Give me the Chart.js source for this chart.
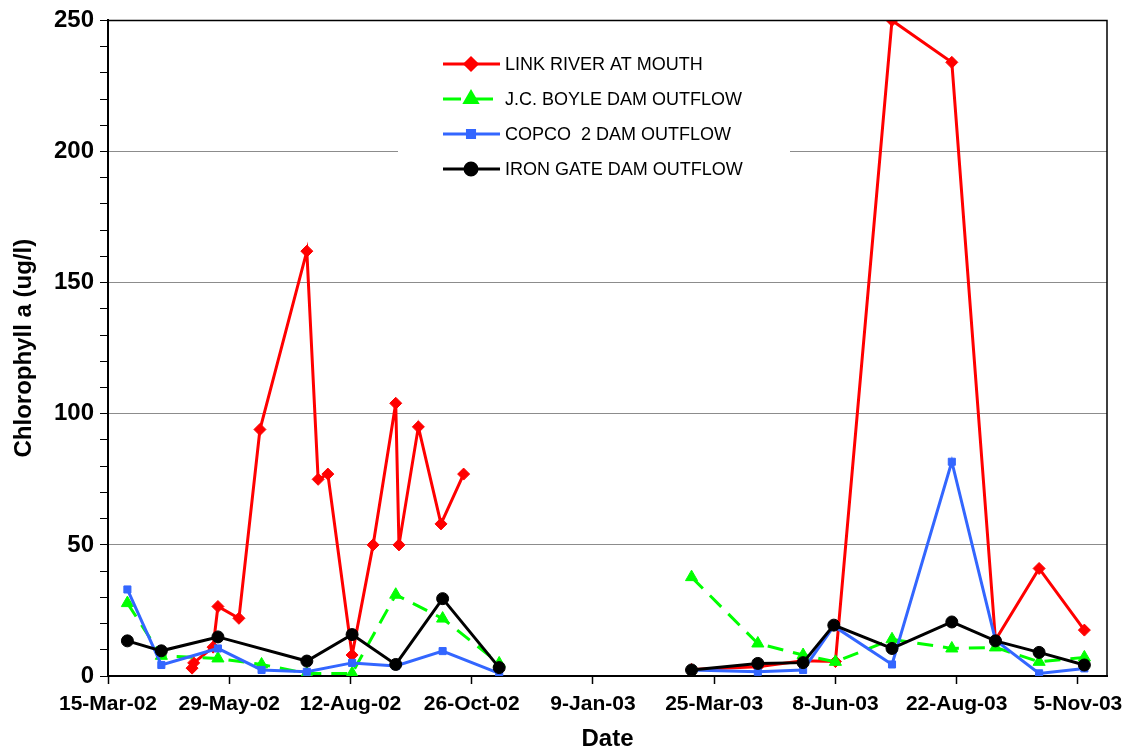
<!DOCTYPE html>
<html>
<head>
<meta charset="utf-8">
<script src="https://cdn.jsdelivr.net/npm/chart.js@4.4.0/dist/chart.umd.min.js"></script>
<style>
  html, body { margin: 0; padding: 0; background: #fff; }
  #wrap { width: 1123px; height: 756px; }
</style>
</head>
<body>
<div id="wrap"><canvas id="chlChart" width="1123" height="756"></canvas></div>
<script>
// x axis runs in days counted from the first tick date
const startDate = '2002-03-15';
const tickLabels = ['15-Mar-02', '29-May-02', '12-Aug-02', '26-Oct-02', '9-Jan-03',
                    '25-Mar-03', '8-Jun-03', '22-Aug-03', '5-Nov-03'];

const linkDates = ['2002-05-06', '2002-05-07', '2002-05-19', '2002-05-22', '2002-06-04', '2002-06-17',
                   '2002-07-16', '2002-07-23', '2002-07-29', '2002-08-13', '2002-08-26', '2002-09-09',
                   '2002-09-11', '2002-09-23', '2002-10-07', '2002-10-21',
                   '2003-03-11', '2003-04-21', '2003-05-19', '2003-06-08', '2003-07-13', '2003-08-19',
                   '2003-09-15', '2003-10-12', '2003-11-09'];
const linkVals = [3, 5, 11, 26.5, 22, 94, 162, 75, 77, 8, 50, 104, 50, 95, 58, 77,
                  2.5, 3.5, 5.8, 5.5, 250, 234, 13.7, 41, 17.5];

const boyleDates = ['2002-03-27', '2002-04-17', '2002-05-22', '2002-06-18', '2002-07-16', '2002-08-13',
                    '2002-09-09', '2002-10-08', '2002-11-12',
                    '2003-03-11', '2003-04-21', '2003-05-19', '2003-06-08', '2003-07-13', '2003-08-19',
                    '2003-09-15', '2003-10-12', '2003-11-09'];
const boyleVals = [27.8, 7.7, 6.7, 4.4, 1, 1, 31, 21.9, 4.8,
                   37.7, 12.4, 8, 5.4, 14, 10.5, 10.9, 5.4, 7.1];

const copcoDates = ['2002-03-27', '2002-04-17', '2002-05-22', '2002-06-18', '2002-07-16', '2002-08-13',
                    '2002-09-09', '2002-10-08', '2002-11-12',
                    '2003-03-11', '2003-04-21', '2003-05-19', '2003-06-07', '2003-07-13', '2003-08-19',
                    '2003-09-15', '2003-10-12', '2003-11-09'];
const copcoVals = [33, 4.2, 10.5, 2.3, 1.6, 5, 3.8, 9.5, 1,
                   2.3, 1.6, 2.3, 19, 4.4, 81.7, 13.7, 1, 2.9];

const ironDates = ['2002-03-27', '2002-04-17', '2002-05-22', '2002-07-16', '2002-08-13',
                   '2002-09-09', '2002-10-08', '2002-11-12',
                   '2003-03-11', '2003-04-21', '2003-05-19', '2003-06-07', '2003-07-13', '2003-08-19',
                   '2003-09-15', '2003-10-12', '2003-11-09'];
const ironVals = [13.4, 9.6, 14.9, 5.7, 15.8, 4.4, 29.5, 3.2,
                  2.3, 4.8, 5.1, 19.4, 10.5, 20.6, 13.4, 9, 4.2];

const FONT = "'Liberation Sans', Arial, sans-serif";

function dayOf(d) {
    return (Date.parse(d) - Date.parse(startDate)) / 86400000;
}

// build {x,y} points; a null point breaks the line over the winter gap
function toPoints(dates, vals) {
    const pts = [];
    dates.forEach((d, i) => {
        const x = dayOf(d);
        if (pts.length && x - pts[pts.length - 1].x > 100) {
            pts.push({ x: x - 50, y: null });
        }
        pts.push({ x: x, y: vals[i] });
    });
    return pts;
}

const seriesStyles = [
    { label: 'LINK RIVER AT MOUTH', dates: linkDates, vals: linkVals, color: '#ff0000', point: 'rectRot', radius: 6, dash: [], order: 4 },
    { label: 'J.C. BOYLE DAM OUTFLOW', dates: boyleDates, vals: boyleVals, color: '#00ff00', point: 'triangle', radius: 7, dash: [16, 10], order: 3 },
    { label: 'COPCO  2 DAM OUTFLOW', dates: copcoDates, vals: copcoVals, color: '#3366ff', point: 'rect', radius: 5, dash: [], order: 2 },
    { label: 'IRON GATE DAM OUTFLOW', dates: ironDates, vals: ironVals, color: '#000000', point: 'circle', radius: 6, dash: [], order: 1 }
];

const datasets = seriesStyles.map(s => ({
    label: s.label,
    data: toPoints(s.dates, s.vals),
    borderColor: s.color,
    backgroundColor: s.color,
    borderWidth: 3,
    borderDash: s.dash,
    pointStyle: s.point,
    pointRadius: s.radius,
    pointBorderWidth: 1,
    pointBackgroundColor: s.color,
    pointBorderColor: s.color,
    tension: 0,
    fill: false,
    spanGaps: false,
    order: s.order
}));

// frame around the plot + legend box inside it
const framePlugin = {
    id: 'frameAndLegend',
    afterDraw(chart) {
        const ctx = chart.ctx;
        const a = chart.chartArea;
        ctx.save();
        ctx.strokeStyle = '#000';
        ctx.lineWidth = 1.5;
        ctx.beginPath();
        ctx.moveTo(a.left, a.top);
        ctx.lineTo(a.right, a.top);
        ctx.lineTo(a.right, a.bottom);
        ctx.stroke();

        // legend
        ctx.fillStyle = '#fff';
        ctx.fillRect(398, 42, 392, 148);
        const rows = [64, 99, 134, 169];
        seriesStyles.forEach((s, i) => {
            const y = rows[i];
            ctx.strokeStyle = s.color;
            ctx.lineWidth = 3;
            ctx.setLineDash(s.dash.length ? [18, 14] : []);
            ctx.beginPath();
            ctx.moveTo(443, y);
            ctx.lineTo(500, y);
            ctx.stroke();
            ctx.setLineDash([]);
            ctx.fillStyle = s.color;
            Chart.helpers.drawPoint(ctx, {
                pointStyle: s.point, radius: s.radius, rotation: 0, borderWidth: 1
            }, 471, y);
            ctx.fillStyle = '#000';
            ctx.font = '18px ' + FONT;
            ctx.textBaseline = 'middle';
            ctx.textAlign = 'left';
            ctx.fillText(s.label, 505, y + 1);
        });
        ctx.restore();
    }
};

const chart = new Chart(document.getElementById('chlChart').getContext('2d'), {
    type: 'line',
    data: { datasets: datasets },
    plugins: [framePlugin],
    options: {
        responsive: false,
        animation: false,
        layout: { padding: { top: 17, right: 16, left: 0, bottom: 2 } },
        plugins: {
            legend: { display: false },
            tooltip: { enabled: false }
        },
        scales: {
            x: {
                type: 'linear',
                min: 0,
                max: 618,
                afterFit: s => {
                    s.height = 78;
                    s.paddingLeft = 0;
                    s.paddingRight = 0;
                },
                ticks: {
                    stepSize: 75,
                    includeBounds: false,
                    autoSkip: false,
                    maxRotation: 0,
                    padding: 8,
                    color: '#000',
                    font: { family: FONT, size: 21, weight: 'bold' },
                    callback: v => tickLabels[Math.round(v / 75)]
                },
                grid: { drawOnChartArea: false, tickLength: 8, tickColor: '#000', tickWidth: 1.5 },
                border: { color: '#000', width: 2 },
                title: {
                    display: true,
                    text: 'Date',
                    color: '#000',
                    font: { family: FONT, size: 24, weight: 'bold' },
                    padding: 0
                }
            },
            y: {
                min: 0,
                max: 250,
                afterFit: s => { s.width = 108; },
                ticks: {
                    stepSize: 10,
                    autoSkip: false,
                    padding: 6,
                    color: '#000',
                    font: { family: FONT, size: 24, weight: 'bold' },
                    callback: v => (v % 50 === 0 ? v : '')
                },
                grid: {
                    color: c => (c.tick && c.tick.value % 50 === 0 && c.tick.value > 0 && c.tick.value < 250)
                        ? '#8c8c8c' : 'rgba(0,0,0,0)',
                    lineWidth: 1,
                    tickLength: 8,
                    tickColor: '#000',
                    tickWidth: 1
                },
                border: { color: '#000', width: 2 },
                title: {
                    display: true,
                    text: 'Chlorophyll a (ug/l)',
                    color: '#000',
                    font: { family: FONT, size: 24, weight: 'bold' },
                    padding: { top: 10 }
                }
            }
        }
    }
});
</script>
</body>
</html>
